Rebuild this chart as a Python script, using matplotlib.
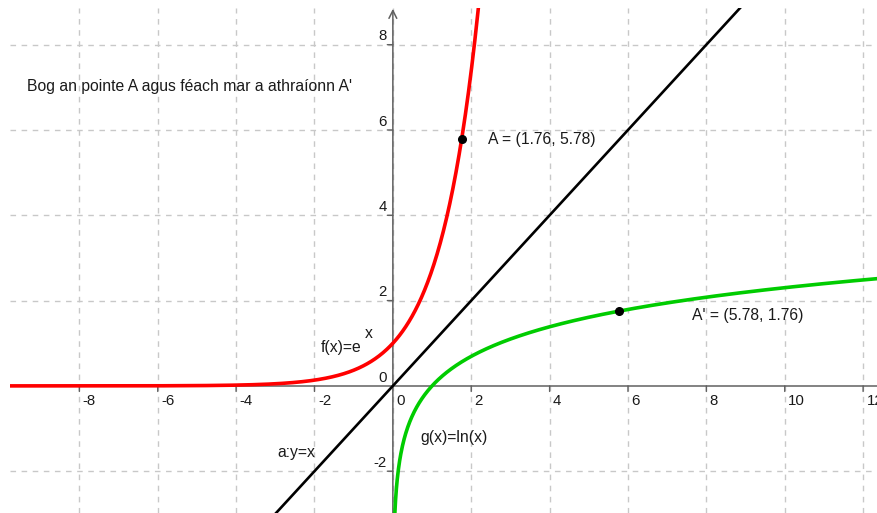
import numpy as np
import matplotlib
matplotlib.use("Agg")
import matplotlib.pyplot as plt

# ---- data ----
x_ticks = [-8, -6, -4, -2, 0, 2, 4, 6, 8, 10, 12]
y_ticks = [-2, 0, 2, 4, 6, 8]
point_A = (1.76, 5.78)
point_Ap = (5.78, 1.76)
title_text = "Bog an pointe A agus féach mar a athraíonn A'"
label_A = "A = (1.76, 5.78)"
label_Ap = "A' = (5.78, 1.76)"
label_f = "f(x)=e"
label_f_sup = "x"
label_g = "g(x)=ln(x)"
label_a = "a:y=x"

xmin, xmax = -9.77, 12.38
ymin, ymax = -2.98, 8.86

plt.rcParams['font.family'] = ['Liberation Sans', 'DejaVu Sans']

fig = plt.figure(figsize=(8.78, 5.13), dpi=100)
ax = fig.add_axes([10/878, 0, 868/878, 505/513])
ax.set_xlim(xmin, xmax)
ax.set_ylim(ymin, ymax)
for s in ax.spines.values():
    s.set_visible(False)
ax.set_xticks([])
ax.set_yticks([])

# grid
gcol = '#c8c8c8'
for xv in x_ticks:
    ax.axvline(xv, color=gcol, lw=1, ls=(0, (4, 4)), zorder=0)
for yv in y_ticks:
    if yv != 0:
        ax.axhline(yv, color=gcol, lw=1, ls=(0, (4, 4)), zorder=0)

# axes lines
acol = '#606060'
ax.axhline(0, color=acol, lw=1.1, zorder=1)
ax.annotate('', xy=(0, ymax - 0.02), xytext=(0, ymin),
            arrowprops=dict(arrowstyle='->', color=acol, lw=1.1,
                            mutation_scale=14, shrinkA=0, shrinkB=0), zorder=1)

# tick marks
for xv in x_ticks:
    if xv != 0:
        ax.annotate('', xy=(xv, 0), xytext=(0, -4), textcoords='offset points',
                    arrowprops=dict(arrowstyle='-', color=acol, lw=1,
                                    shrinkA=0, shrinkB=0))
for yv in y_ticks:
    if yv != 0:
        ax.annotate('', xy=(0, yv), xytext=(-4, 0), textcoords='offset points',
                    arrowprops=dict(arrowstyle='-', color=acol, lw=1,
                                    shrinkA=0, shrinkB=0))

# tick labels
tcol = '#1a1a1a'
for xv in x_ticks:
    ax.annotate(str(xv), xy=(xv, 0), xytext=(2.5, -11), textcoords='offset points',
                ha='left', va='center', fontsize=10.8, color=tcol)
for yv in y_ticks:
    ax.annotate(str(yv), xy=(0, yv), xytext=(-4.5, 6), textcoords='offset points',
                ha='right', va='center', fontsize=10.8, color=tcol)

# curves
xe = np.linspace(xmin, np.log(ymax) + 0.05, 600)
ax.plot(xe, np.exp(xe), color='#ff0000', lw=2.6, zorder=3, solid_capstyle='butt')
xl = np.linspace(ymin - 0.2, ymax + 0.2, 10)
ax.plot(xl, xl, color='black', lw=1.9, zorder=3)
xg = np.linspace(np.exp(ymin - 0.05), xmax + 0.1, 1200)
ax.plot(xg, np.log(xg), color='#00cc00', lw=2.6, zorder=3)

# points
ax.plot([point_A[0]], [point_A[1]], 'o', color='black', ms=5.5, zorder=4)
ax.plot([point_Ap[0]], [point_Ap[1]], 'o', color='black', ms=5.5, zorder=4)

# labels
fs = 11.3
ax.text(-9.33, 7.01, title_text, fontsize=fs, ha='left', va='center', color=tcol)
ax.text(2.43, 5.77, label_A, fontsize=fs, ha='left', va='center', color=tcol)
ax.text(7.64, 1.64, label_Ap, fontsize=fs, ha='left', va='center', color=tcol)
ax.text(-1.85, 0.91, label_f, fontsize=fs, ha='left', va='center', color=tcol)
ax.text(-0.71, 1.24, label_f_sup, fontsize=fs, ha='left', va='center', color=tcol)
ax.text(0.70, -1.22, label_g, fontsize=fs, ha='left', va='center', color=tcol)
ax.text(-2.95, -1.55, label_a, fontsize=fs, ha='left', va='center', color=tcol)

fig.savefig('out.png', dpi=100, facecolor='white')
